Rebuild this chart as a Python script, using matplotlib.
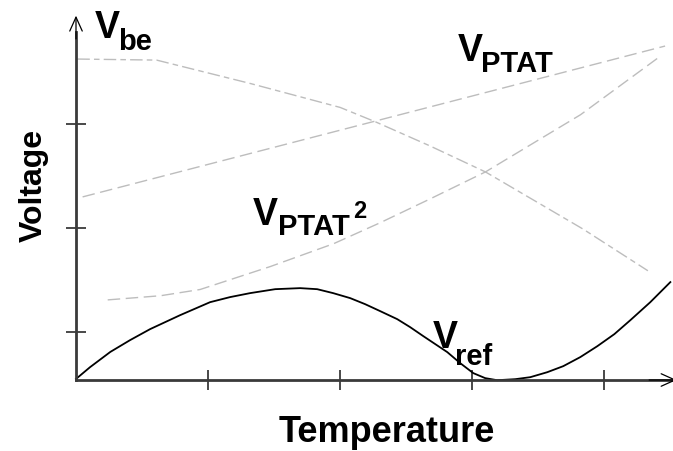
import matplotlib.pyplot as plt

plt.rcParams['font.family'] = ['Liberation Sans', 'DejaVu Sans']

# temperature in tick units, voltage in tick units
vref_t = [0.0, 0.106, 0.26, 0.409, 0.561, 0.788, 1.015, 1.167, 1.318, 1.508, 1.697,
          1.826, 1.947, 2.076, 2.189, 2.303, 2.432, 2.530, 2.629, 2.720, 2.811, 2.909,
          3.008, 3.098, 3.189, 3.326, 3.439, 3.568, 3.689, 3.818, 3.947, 4.076, 4.197,
          4.348, 4.500]
vref_v = [0.55, 0.663, 0.81, 0.923, 1.029, 1.163, 1.288, 1.337, 1.375, 1.413, 1.423,
          1.413, 1.375, 1.327, 1.269, 1.202, 1.125, 1.048, 0.962, 0.885, 0.808, 0.702,
          0.606, 0.558, 0.538, 0.548, 0.567, 0.615, 0.673, 0.760, 0.865, 0.981, 1.115,
          1.288, 1.481]

vbe_t = [0.01, 0.61, 1.32, 2.00, 2.27, 2.68, 3.10, 3.84, 4.33]
vbe_v = [3.625, 3.615, 3.39, 3.16, 3.02, 2.79, 2.54, 1.99, 1.59]

ptat_t = [0.05, 4.46]
ptat_v = [2.30, 3.75]

ptat2_t = [0.24, 0.64, 0.94, 1.47, 1.95, 2.30, 2.68, 3.10, 3.82, 4.40]
ptat2_v = [1.31, 1.35, 1.41, 1.63, 1.85, 2.05, 2.28, 2.54, 3.09, 3.63]

x_ticks = [1, 2, 3, 4]
y_ticks = [1, 2, 3]

axis_col = '#3a3a3a'
dash_col = '#bdbdbd'

fig = plt.figure(figsize=(6.73, 4.52), dpi=100)
ax = fig.add_axes([76 / 673, 71 / 452, 597 / 673, 348 / 452])
ax.set_xlim(0, 4.52)
ax.set_ylim(0.54, 3.885)

ax.plot(vbe_t, vbe_v, color=dash_col, lw=1, ls=(0, (9, 3, 4, 3)))
ax.plot(ptat_t, ptat_v, color=dash_col, lw=1, ls=(0, (9, 4)))
ax.plot(ptat2_t, ptat2_v, color=dash_col, lw=1, ls=(0, (9, 4)))
ax.plot(vref_t, vref_v, color='black', lw=1.3, clip_on=False)

for s in ['top', 'right']:
    ax.spines[s].set_visible(False)
for s in ['left', 'bottom']:
    ax.spines[s].set_color(axis_col)
    ax.spines[s].set_linewidth(2)

ax.set_xticks(x_ticks)
ax.set_yticks(y_ticks)
ax.set_xticklabels([])
ax.set_yticklabels([])
ax.tick_params(direction='inout', length=15, width=1.3, color=axis_col)

# open arrow heads on the axes
ax.annotate('', xy=(0, 1.047), xytext=(0, 0.98), xycoords='axes fraction',
            arrowprops=dict(arrowstyle='->,head_length=1.0,head_width=0.45',
                            color='black', lw=0.9, shrinkA=0, shrinkB=0))
ax.annotate('', xy=(1.006, 0), xytext=(0.96, 0), xycoords='axes fraction',
            arrowprops=dict(arrowstyle='->,head_length=1.0,head_width=0.45',
                            color='black', lw=0.9, shrinkA=0, shrinkB=0))

big = 27
small = 21
kw = dict(va='baseline', fontweight='bold')
ax.text(0.14, 3.84, 'V', fontsize=big, clip_on=False, **kw)
ax.text(0.32, 3.72, 'be', fontsize=small, clip_on=False, **kw)
ax.text(2.89, 3.62, 'V', fontsize=big, **kw)
ax.text(3.07, 3.51, 'PTAT', fontsize=small, **kw)
ax.text(1.34, 2.04, 'V', fontsize=big, **kw)
ax.text(1.53, 1.94, 'PTAT', fontsize=small, **kw)
ax.text(2.10, 2.11, '2', fontsize=17, **kw)
ax.text(2.70, 0.86, 'V', fontsize=big, **kw)
ax.text(2.87, 0.69, 'ref', fontsize=small, **kw)

ax.set_xlabel('Temperature', fontsize=26, fontweight='bold')
ax.xaxis.label.set_va('baseline')
ax.xaxis.set_label_coords(0.52, -0.175)
ax.set_ylabel('Voltage', fontsize=23, fontweight='bold')
ax.yaxis.label.set_va('baseline')
ax.yaxis.set_label_coords(-0.057, 0.563)

fig.savefig('out.png', dpi=100)
